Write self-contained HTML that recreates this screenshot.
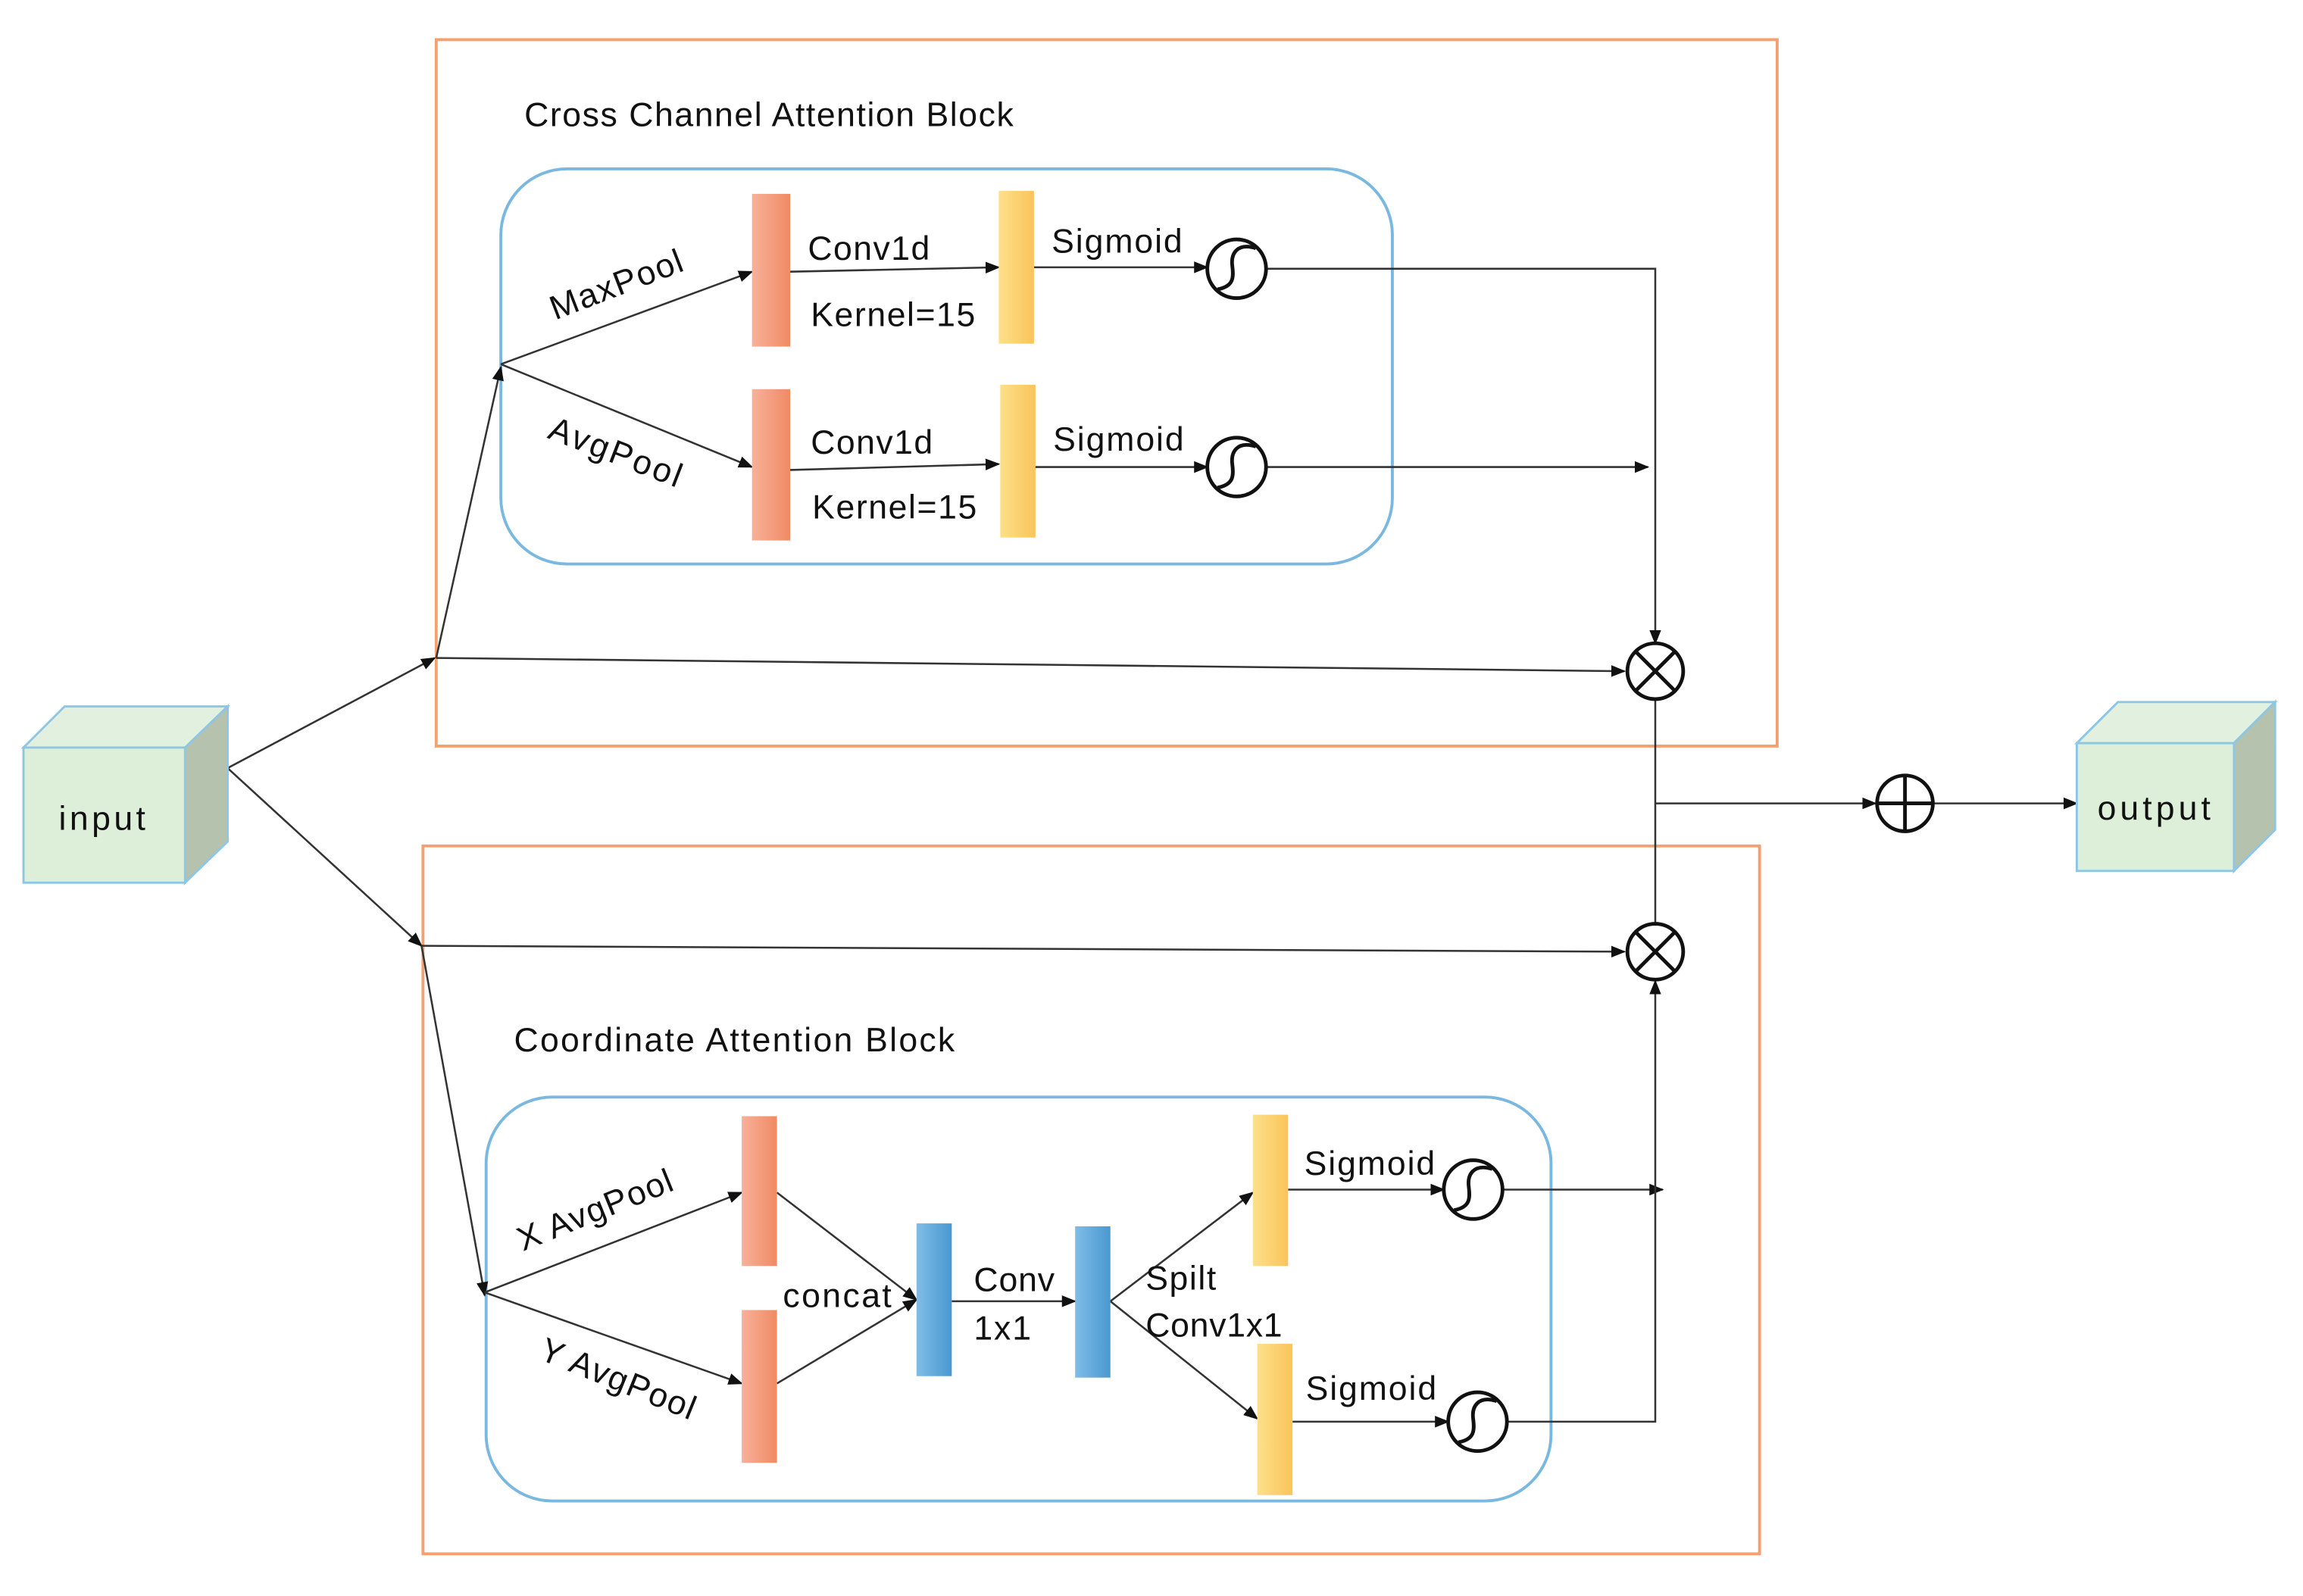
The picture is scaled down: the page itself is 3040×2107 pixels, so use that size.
<!DOCTYPE html>
<html><head><style>html,body{margin:0;padding:0;background:#fff}svg{display:block}text{font-family:"Liberation Sans",sans-serif;fill:#111;font-size:23px}</style></head>
<body>
<svg width="3040" height="2107" viewBox="0 0 1568 1086.7" preserveAspectRatio="none" xmlns="http://www.w3.org/2000/svg">
<defs>
<marker id="a" markerWidth="10" markerHeight="8" refX="9" refY="4" orient="auto" markerUnits="userSpaceOnUse"><path d="M0,0 L10,4 L0,8z" fill="#111"/></marker>
<linearGradient id="s" x1="0" x2="1"><stop offset="0" stop-color="#f7b199"/><stop offset="1" stop-color="#f08a64"/></linearGradient>
<linearGradient id="y" x1="0" x2="1"><stop offset="0" stop-color="#fde08a"/><stop offset="1" stop-color="#f9c45a"/></linearGradient>
<linearGradient id="b" x1="0" x2="1"><stop offset="0" stop-color="#7fbde8"/><stop offset="1" stop-color="#4a98d0"/></linearGradient>
<g id="sig"><circle r="20" fill="#fff" stroke="#111" stroke-width="2.5"/><path d="M13,-14 C0,-18 -4,-10 -3,-2 C-2,6 -2,12 -13,14" fill="none" stroke="#111" stroke-width="2.5"/></g>
<g id="ot"><circle r="19" fill="#fff" stroke="#111" stroke-width="2.5"/><path d="M-13,-13 L13,13 M13,-13 L-13,13" stroke="#111" stroke-width="2.5"/></g>
</defs>
<rect x="297" y="27" width="913" height="481" fill="none" stroke="#f4a070" stroke-width="2"/>
<rect x="288" y="576" width="910" height="482" fill="none" stroke="#f4a070" stroke-width="2"/>
<rect x="341" y="115" width="607" height="269" rx="45" fill="none" stroke="#7ab8e0" stroke-width="2"/>
<rect x="331" y="747" width="725" height="275" rx="45" fill="none" stroke="#7ab8e0" stroke-width="2"/>
<text x="357" y="86" textLength="333">Cross Channel Attention Block</text>
<text x="350" y="716" textLength="300">Coordinate Attention Block</text>
<g stroke="#333" stroke-width="1.3" fill="none">
<line x1="155" y1="523" x2="296" y2="448" marker-end="url(#a)"/>
<line x1="297" y1="448" x2="341" y2="250" marker-end="url(#a)"/>
<line x1="297" y1="448" x2="1106" y2="457" marker-end="url(#a)"/>
<line x1="155" y1="523" x2="287" y2="644" marker-end="url(#a)"/>
<line x1="287" y1="644" x2="1106" y2="648" marker-end="url(#a)"/>
<line x1="287" y1="644" x2="330" y2="882" marker-end="url(#a)"/>
<line x1="341" y1="248" x2="512" y2="185" marker-end="url(#a)"/>
<line x1="341" y1="248" x2="512" y2="318" marker-end="url(#a)"/>
<line x1="538" y1="185" x2="680" y2="182" marker-end="url(#a)"/>
<line x1="538" y1="320" x2="680" y2="316" marker-end="url(#a)"/>
<line x1="704" y1="182" x2="822" y2="182" marker-end="url(#a)"/>
<line x1="704" y1="318" x2="822" y2="318" marker-end="url(#a)"/>
<polyline points="862,183 1127,183 1127,438" marker-end="url(#a)"/>
<line x1="862" y1="318" x2="1122" y2="318" marker-end="url(#a)"/>
<line x1="1127" y1="476" x2="1127" y2="629"/>
<line x1="1127" y1="547" x2="1277" y2="547" marker-end="url(#a)"/>
<line x1="1316" y1="547" x2="1414" y2="547" marker-end="url(#a)"/>
<line x1="330" y1="880" x2="505" y2="812" marker-end="url(#a)"/>
<line x1="330" y1="880" x2="505" y2="942" marker-end="url(#a)"/>
<line x1="529" y1="812" x2="624" y2="885" marker-end="url(#a)"/>
<line x1="529" y1="942" x2="624" y2="885" marker-end="url(#a)"/>
<line x1="648" y1="886" x2="732" y2="886" marker-end="url(#a)"/>
<line x1="756" y1="886" x2="853" y2="812" marker-end="url(#a)"/>
<line x1="756" y1="886" x2="856" y2="966" marker-end="url(#a)"/>
<line x1="877" y1="810" x2="983" y2="810" marker-end="url(#a)"/>
<line x1="880" y1="968" x2="986" y2="968" marker-end="url(#a)"/>
<line x1="1023" y1="810" x2="1132" y2="810" marker-end="url(#a)"/>
<polyline points="1026,968 1127,968 1127,668" marker-end="url(#a)"/>
</g>
<rect x="512" y="132" width="26" height="104" fill="url(#s)"/>
<rect x="512" y="265" width="26" height="103" fill="url(#s)"/>
<rect x="680" y="130" width="24" height="104" fill="url(#y)"/>
<rect x="681" y="262" width="24" height="104" fill="url(#y)"/>
<rect x="505" y="760" width="24" height="102" fill="url(#s)"/>
<rect x="505" y="892" width="24" height="104" fill="url(#s)"/>
<rect x="624" y="833" width="24" height="104" fill="url(#b)"/>
<rect x="732" y="835" width="24" height="103" fill="url(#b)"/>
<rect x="853" y="759" width="24" height="103" fill="url(#y)"/>
<rect x="856" y="915" width="24" height="103" fill="url(#y)"/>
<use href="#sig" x="842" y="183"/><use href="#sig" x="842" y="318"/>
<use href="#sig" x="1003" y="810"/><use href="#sig" x="1006" y="968"/>
<use href="#ot" x="1127" y="457"/><use href="#ot" x="1127" y="648"/>
<circle cx="1297" cy="547" r="19" fill="#fff" stroke="#111" stroke-width="2.5"/>
<path d="M1278,547 H1316 M1297,528 V566" stroke="#111" stroke-width="2.5"/>
<g stroke="#8ec6e4" stroke-width="1.5">
<polygon points="16,509 44,481 155,481 126,509" fill="#e2f1df"/>
<polygon points="126,509 155,481 155,573 126,601" fill="#b4c2ae"/>
<rect x="16" y="509" width="110" height="92" fill="#ddefd9"/>
<polygon points="1414,506 1442,478 1549,478 1521,506" fill="#e2f1df"/>
<polygon points="1521,506 1549,478 1549,565 1521,593" fill="#b4c2ae"/>
<rect x="1414" y="506" width="107" height="87" fill="#ddefd9"/>
</g>
<text x="40" y="565" textLength="59">input</text>
<text x="1428" y="558" textLength="77">output</text>
<text x="0" y="0" transform="translate(378,218) rotate(-21)" textLength="95">MaxPool</text>
<text x="0" y="0" transform="translate(372,298) rotate(21)" textLength="95">AvgPool</text>
<text x="550" y="177" textLength="83">Conv1d</text><text x="552" y="222" textLength="112">Kernel=15</text><text x="716" y="172" textLength="89">Sigmoid</text>
<text x="552" y="309" textLength="83">Conv1d</text><text x="553" y="353" textLength="112">Kernel=15</text><text x="717" y="307" textLength="89">Sigmoid</text>
<text x="0" y="0" transform="translate(356,852) rotate(-22)" textLength="112">X AvgPool</text>
<text x="0" y="0" transform="translate(366,925) rotate(22)" textLength="112">Y AvgPool</text>
<text x="533" y="890" textLength="74">concat</text>
<text x="663" y="879" textLength="55">Conv</text><text x="663" y="912" textLength="39">1x1</text>
<text x="780" y="878" textLength="48">Spilt</text><text x="780" y="910" textLength="93">Conv1x1</text>
<text x="888" y="800" textLength="89">Sigmoid</text><text x="889" y="953" textLength="89">Sigmoid</text>
</svg>
</body></html>
